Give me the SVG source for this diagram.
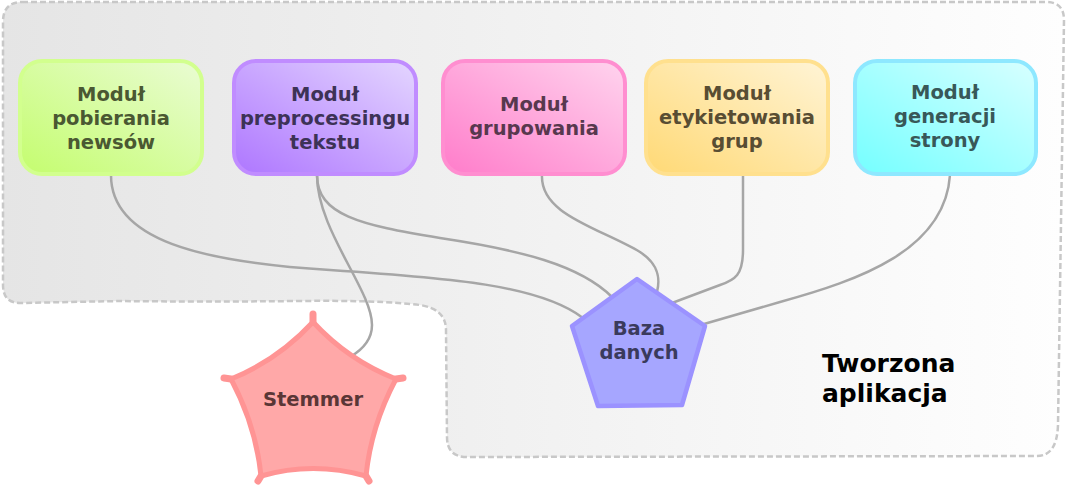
<svg xmlns="http://www.w3.org/2000/svg" width="1066" height="488" viewBox="0 0 1066 488">
<defs>
<linearGradient id="bg" x1="0" y1="0" x2="1" y2="0"><stop offset="0" stop-color="#e5e5e5"/><stop offset="1" stop-color="#fefefe"/></linearGradient>
<linearGradient id="g1" x1="0" y1="1" x2="1" y2="0"><stop offset="0" stop-color="#c4fd6e"/><stop offset="1" stop-color="#eafcd4"/></linearGradient>
<linearGradient id="g2" x1="0" y1="1" x2="1" y2="0"><stop offset="0" stop-color="#ae76ff"/><stop offset="1" stop-color="#e4d6ff"/></linearGradient>
<linearGradient id="g3" x1="0" y1="1" x2="1" y2="0"><stop offset="0" stop-color="#ff7cca"/><stop offset="1" stop-color="#ffd4ee"/></linearGradient>
<linearGradient id="g4" x1="0" y1="1" x2="1" y2="0"><stop offset="0" stop-color="#ffd975"/><stop offset="1" stop-color="#fff4d6"/></linearGradient>
<linearGradient id="g5" x1="0" y1="1" x2="1" y2="0"><stop offset="0" stop-color="#74ffff"/><stop offset="1" stop-color="#d8ffff"/></linearGradient>
</defs>
<style>
text{font-family:"DejaVu Sans","Liberation Sans",sans-serif;font-weight:bold;text-anchor:middle;font-size:19.5px}
.box{stroke-width:4}
.conn{fill:none;stroke:#a6a6a6;stroke-width:2.5}
.spike{stroke:#ff9494;stroke-width:7;stroke-linecap:round;fill:none}
</style>
<g id="container">
<path d="M22,2 L1046,2 Q1064,2 1064,20 L1058,425 Q1057,456 1037,456 L467,457 Q447,457 447,437 L446,330 Q446,309 420,305 Q380,300 300,301 Q200,302 120,301 L20,303 Q3,303 3,285 L3,22 Q3,2 22,2 Z" fill="url(#bg)" stroke="#c8c8c8" stroke-width="2.5" stroke-dasharray="6 3"/>
<text x="822" y="372" style="text-anchor:start;font-size:25px" fill="#000">Tworzona</text>
<text x="822" y="402" style="text-anchor:start;font-size:25px" fill="#000">aplikacja</text>
</g>
<g id="connectors">
<path class="conn" d="M111,175 C111,240 200,262 330,270 C450,278 540,285 583,318"/>
<path class="conn" d="M317,175 C317,230 372,290 372,325 C372,340 362,350 350,357"/>
<path class="conn" d="M317,175 C317,215 360,225 440,238 C520,250 580,265 612,297"/>
<path class="conn" d="M542,175 C540,215 600,228 640,252 C660,265 660,280 657,292"/>
<path class="conn" d="M743,175 L743,250 C743,275 735,280 720,285 L672,303"/>
<path class="conn" d="M950,175 C945,250 860,280 780,302 L704,324"/>
</g>
<g id="n1">
<rect class="box" x="20" y="61" width="182" height="113" rx="22" fill="url(#g1)" stroke="#d2ff8e"/>
<text x="111" y="101" fill="#4a5832">Moduł</text>
<text x="111" y="125" fill="#4a5832">pobierania</text>
<text x="111" y="149" fill="#4a5832">newsów</text>
</g>
<g id="n2">
<rect class="box" x="234" y="61" width="182" height="113" rx="22" fill="url(#g2)" stroke="#c08cff"/>
<text x="325" y="101" fill="#3d3256">Moduł</text>
<text x="325" y="125" fill="#3d3256">preprocessingu</text>
<text x="325" y="149" fill="#3d3256">tekstu</text>
</g>
<g id="n3">
<rect class="box" x="443" y="61" width="182" height="113" rx="22" fill="url(#g3)" stroke="#ff8ed0"/>
<text x="534" y="111" fill="#58384e">Moduł</text>
<text x="534" y="135" fill="#58384e">grupowania</text>
</g>
<g id="n4">
<rect class="box" x="646" y="61" width="182" height="113" rx="22" fill="url(#g4)" stroke="#ffe08e"/>
<text x="737" y="100" fill="#584d33">Moduł</text>
<text x="737" y="124" fill="#584d33">etykietowania</text>
<text x="737" y="148" fill="#584d33">grup</text>
</g>
<g id="n5">
<rect class="box" x="855" y="61" width="181" height="113" rx="22" fill="url(#g5)" stroke="#8ee8ff"/>
<text x="945" y="99" fill="#385858">Moduł</text>
<text x="945" y="123" fill="#385858">generacji</text>
<text x="945" y="147" fill="#385858">strony</text>
</g>
<g id="baza">
<path d="M637,279 L705,326 L682,405 L598,406 L572,326 Z" fill="#a6a6ff" stroke="#9b92ff" stroke-width="4.5" stroke-linejoin="round"/>
<text x="639" y="335" fill="#3a3a5c">Baza</text>
<text x="639" y="359" fill="#3a3a5c">danych</text>
</g>
<g id="stemmer">
<path d="M313,322 Q348,360 396,379 Q371,426 366,476 Q313,461 261,476 Q256,426 231,379 Q278,360 313,322 Z" fill="#ffa8a8" stroke="#ff9494" stroke-width="5" stroke-linejoin="round"/>
<path class="spike" d="M313,322 L313,314 M396,379 L403,378 M231,379 L224,378 M366,476 L369,481 M261,476 L258,481"/>
<text x="313" y="406" fill="#5a3636">Stemmer</text>
</g>
</svg>
